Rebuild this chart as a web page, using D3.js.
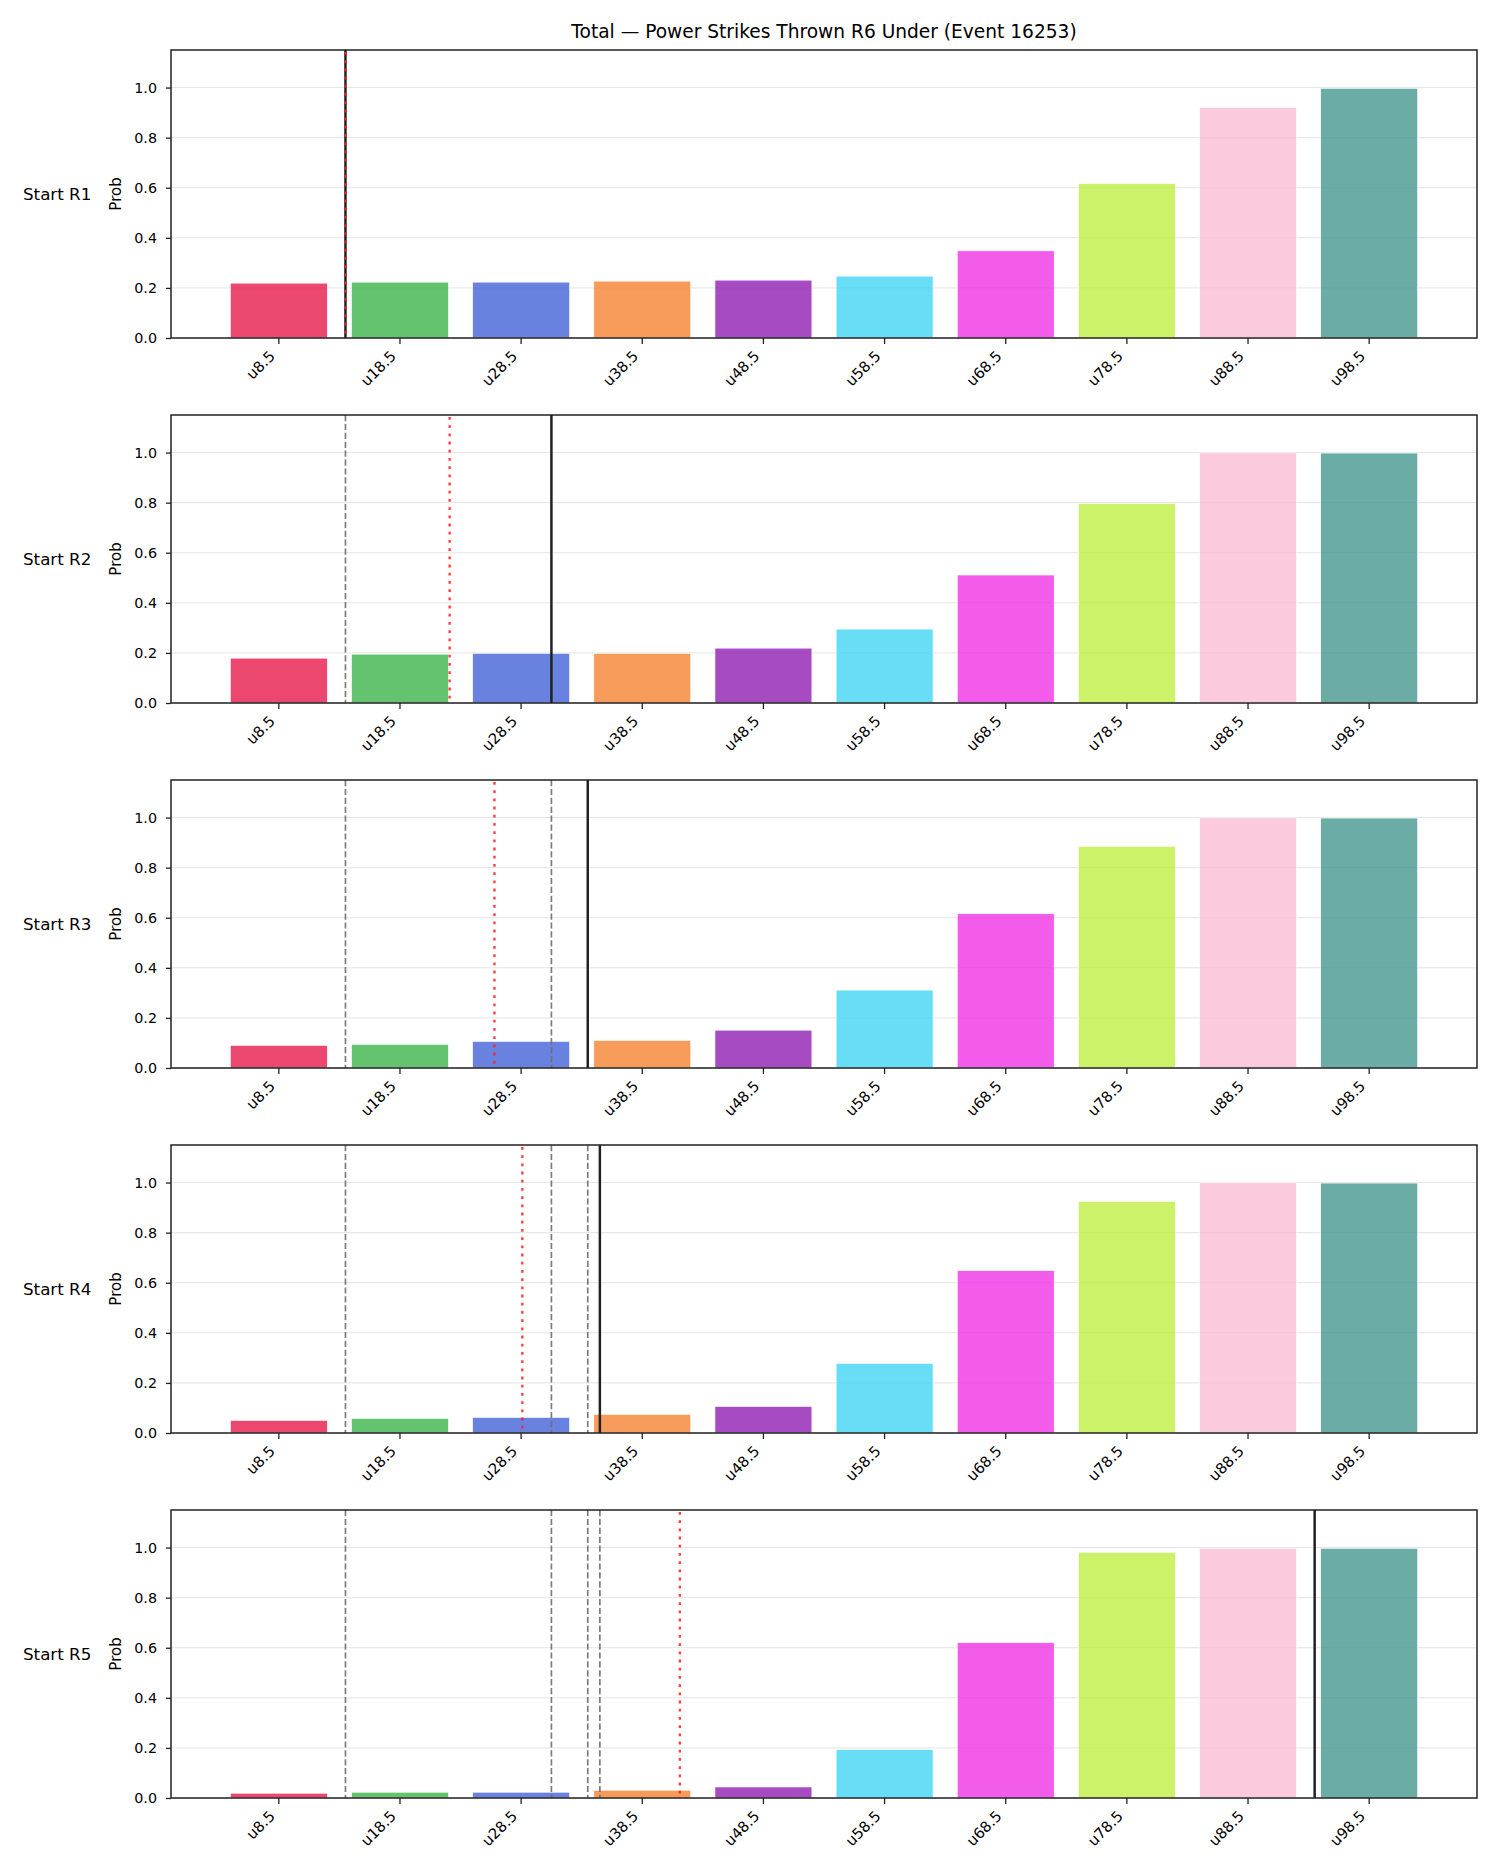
<!DOCTYPE html>
<html><head><meta charset="utf-8">
<script src="https://cdn.jsdelivr.net/npm/d3@7"></script>
<style>
body{margin:0;background:#fff}
text{font-family:"DejaVu Sans",sans-serif;fill:#000}
</style>
</head><body>
<svg id="chart" width="1500" height="1875"></svg>
<script>
// ---- data ----
const titleText = "Total \u2014 Power Strikes Thrown R6 Under (Event 16253)";
const categories = ["u8.5","u18.5","u28.5","u38.5","u48.5","u58.5","u68.5","u78.5","u88.5","u98.5"];
const categoryLines = [8.5,18.5,28.5,38.5,48.5,58.5,68.5,78.5,88.5,98.5];
const rounds = ["Start R1","Start R2","Start R3","Start R4","Start R5"];
const probsR1 = [0.219,0.223,0.223,0.227,0.231,0.247,0.348,0.616,0.921,0.997];
const probsR2 = [0.179,0.195,0.198,0.198,0.219,0.295,0.511,0.797,0.999,0.998];
const probsR3 = [0.090,0.094,0.106,0.110,0.151,0.311,0.616,0.885,0.999,0.998];
const probsR4 = [0.050,0.058,0.062,0.074,0.106,0.278,0.648,0.925,0.999,0.998];
const probsR5 = [0.019,0.023,0.023,0.031,0.044,0.193,0.620,0.981,0.997,0.997];
const roundProbs = [probsR1,probsR2,probsR3,probsR4,probsR5];
const currentLine = [14,31,34,35,94];      // solid black marker per round
const projected = [14,22.6,26.3,28.6,41.6]; // red dotted marker per round
const yTicks = [0,0.2,0.4,0.6,0.8,1.0];
const barColors = ["#e6194b","#3cb44b","#4363d8","#f58231","#911eb4","#42d4f4","#f032e6","#bfef45","#fabed4","#469990"];

// ---- layout ----
const svg = d3.select("#chart");
const left = 171, right = 1477;
const panelTop0 = 50, panelStep = 365, panelH = 288;

svg.append("text").attr("x",(left+right)/2).attr("y",38)
  .attr("text-anchor","middle").style("font-size","18.6px").text(titleText);

const x = d3.scaleBand().domain(categories).range([left,right]).paddingInner(0.2).paddingOuter(0.49);
const xVal = d3.scaleLinear()
  .domain([categoryLines[0], categoryLines[categoryLines.length-1]])
  .range([x(categories[0])+x.bandwidth()/2, x(categories[categories.length-1])+x.bandwidth()/2]);

rounds.forEach((rname, ri) => {
  const top = panelTop0 + panelStep*ri, bottom = top + panelH;
  const y = d3.scaleLinear().domain([0,1.15]).range([bottom, top]);
  const g = svg.append("g");

  // grid
  g.selectAll("line.grid").data(yTicks).join("line")
    .attr("x1",left).attr("x2",right)
    .attr("y1",d=>y(d)).attr("y2",d=>y(d))
    .attr("stroke","#e4e4e4").attr("stroke-width",1);

  // bars
  g.selectAll("rect.bar").data(roundProbs[ri]).join("rect")
    .attr("x",(d,i)=>x(categories[i]))
    .attr("width",x.bandwidth())
    .attr("y",d=>y(d)).attr("height",d=>y(0)-y(d))
    .attr("fill",(d,i)=>barColors[i]).attr("fill-opacity",0.8)
    .attr("stroke","#fff").attr("stroke-width",0.6);

  // previous lines (dashed grey)
  const prev = currentLine.slice(0, ri);
  g.selectAll("line.prev").data(prev).join("line")
    .attr("x1",d=>xVal(d)).attr("x2",d=>xVal(d))
    .attr("y1",top).attr("y2",bottom)
    .attr("stroke","#6e6e6e").attr("stroke-opacity",0.9)
    .attr("stroke-width",1.7).attr("stroke-dasharray","6.2,2.7");

  // current line (solid)
  g.append("line")
    .attr("x1",xVal(currentLine[ri])).attr("x2",xVal(currentLine[ri]))
    .attr("y1",top).attr("y2",bottom)
    .attr("stroke","#222").attr("stroke-width",2.5);

  // projected (red dotted)
  g.append("line")
    .attr("x1",xVal(projected[ri])).attr("x2",xVal(projected[ri]))
    .attr("y1",top+2).attr("y2",bottom)
    .attr("stroke","#ff2020").attr("stroke-opacity",0.85)
    .attr("stroke-width",2.4).attr("stroke-dasharray","2.8,5.4");

  // frame
  g.append("rect").attr("x",left).attr("y",top).attr("width",right-left).attr("height",panelH)
    .attr("fill","none").attr("stroke","#222").attr("stroke-width",1.5);

  // y axis
  const ya = g.append("g").attr("transform",`translate(${left},0)`)
    .call(d3.axisLeft(y).tickValues(yTicks).tickFormat(d3.format(".1f")).tickSize(5).tickPadding(9));
  ya.select(".domain").remove();
  ya.selectAll(".tick line").attr("stroke","#222").attr("stroke-width",1.3);
  ya.selectAll(".tick text").style("font-size","14.3px").attr("fill","#000");

  // x axis
  const xa = g.append("g").attr("transform",`translate(0,${bottom})`)
    .call(d3.axisBottom(x).tickSize(6));
  xa.select(".domain").remove();
  xa.selectAll(".tick line").attr("stroke","#222").attr("stroke-width",1.3);
  xa.selectAll(".tick text").style("font-size","14.8px").attr("fill","#000")
    .attr("x",0).attr("y",0).attr("dy",0)
    .attr("text-anchor","end")
    .attr("transform","translate(-3,19) rotate(-45)");

  // y label
  g.append("text").attr("transform",`translate(121,${(top+bottom)/2}) rotate(-90)`)
    .attr("text-anchor","middle").style("font-size","15px").text("Prob");

  // row label
  g.append("text").attr("x",23).attr("y",(top+bottom)/2).attr("dy","0.36em")
    .style("font-size","16.7px").text(rname);
});
</script>
</body></html>
